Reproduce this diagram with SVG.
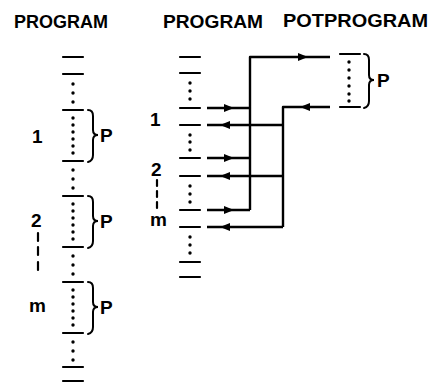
<svg xmlns="http://www.w3.org/2000/svg" width="434" height="385" viewBox="0 0 434 385">
<defs>
<style>
.t{font-family:"Liberation Sans",Arial,sans-serif;font-weight:bold;font-size:19px;fill:#000}
.l{font-family:"Liberation Sans",Arial,sans-serif;font-weight:bold;font-size:19px;fill:#000}
.k{stroke:#000;stroke-width:2.2;fill:none;stroke-linecap:round}
.b{stroke:#000;stroke-width:2;fill:none;stroke-linecap:round}
.w{stroke:#000;stroke-width:2.4;fill:none;stroke-linejoin:round}
.d{fill:#000}
</style>
<marker id="ar" viewBox="0 0 10 8" refX="10" refY="4" markerWidth="10" markerHeight="8" markerUnits="userSpaceOnUse" orient="auto"><path d="M0,0 L10,4 L0,8 Z" fill="#000"/></marker>
</defs>
<rect width="434" height="385" fill="#fff"/>
<g id="titles">
<text class="t" x="14" y="28" textLength="94" lengthAdjust="spacingAndGlyphs">PROGRAM</text>
<text class="t" x="163" y="28" textLength="100" lengthAdjust="spacingAndGlyphs">PROGRAM</text>
<text class="t" x="283" y="27" textLength="145" lengthAdjust="spacingAndGlyphs">POTPROGRAM</text>
</g>
<g id="program-left">
<path class="k" d="M63,57H83M63,74H83M63,110H83M63,161H83M63,196H83M63,247H83M63,282H83M63,333H83M63,367H83M63,381H83"/>
<g class="d">
<circle cx="73" cy="84" r="1.7"/><circle cx="73" cy="93" r="1.7"/><circle cx="73" cy="102" r="1.7"/>
<circle cx="73" cy="118" r="1.7"/><circle cx="73" cy="125" r="1.7"/><circle cx="73" cy="132" r="1.7"/><circle cx="73" cy="139" r="1.7"/><circle cx="73" cy="146" r="1.7"/><circle cx="73" cy="153" r="1.7"/>
<circle cx="73" cy="170" r="1.7"/><circle cx="73" cy="179" r="1.7"/><circle cx="73" cy="188" r="1.7"/>
<circle cx="73" cy="204" r="1.7"/><circle cx="73" cy="211" r="1.7"/><circle cx="73" cy="218" r="1.7"/><circle cx="73" cy="225" r="1.7"/><circle cx="73" cy="232" r="1.7"/><circle cx="73" cy="239" r="1.7"/>
<circle cx="73" cy="256" r="1.7"/><circle cx="73" cy="265" r="1.7"/><circle cx="73" cy="274" r="1.7"/>
<circle cx="73" cy="290" r="1.7"/><circle cx="73" cy="297" r="1.7"/><circle cx="73" cy="304" r="1.7"/><circle cx="73" cy="311" r="1.7"/><circle cx="73" cy="318" r="1.7"/><circle cx="73" cy="325" r="1.7"/>
<circle cx="73" cy="342" r="1.7"/><circle cx="73" cy="351" r="1.7"/><circle cx="73" cy="360" r="1.7"/>
</g>
<path class="b" d="M88,110Q93,110 93,116L93,130Q93,135 98,135Q93,135 93,140L93,155Q93,161 88,162"/>
<path class="b" d="M88,196Q93,196 93,202L93,216Q93,221 98,221Q93,221 93,226L93,241Q93,247 88,248"/>
<path class="b" d="M88,282Q93,282 93,288L93,302Q93,307 98,307Q93,307 93,312L93,327Q93,333 88,334"/>
<text class="l" x="100" y="142">P</text>
<text class="l" x="100" y="228">P</text>
<text class="l" x="100" y="314">P</text>
<text class="l" x="32" y="143">1</text>
<text class="l" x="31" y="227">2</text>
<path class="k" d="M38,233V241M38,247V255M38,262V270"/>
<text class="l" x="29" y="312">m</text>
</g>
<g id="program-mid">
<path class="k" d="M180,57H200M180,73H200M180,108H200M180,125H200M180,158H200M180,176H200M180,210H200M180,227H200M180,262H200M180,277H200"/>
<g class="d">
<circle cx="190" cy="83" r="1.7"/><circle cx="190" cy="91" r="1.7"/><circle cx="190" cy="99" r="1.7"/>
<circle cx="190" cy="135" r="1.7"/><circle cx="190" cy="142" r="1.7"/><circle cx="190" cy="150" r="1.7"/>
<circle cx="190" cy="186" r="1.7"/><circle cx="190" cy="194" r="1.7"/><circle cx="190" cy="202" r="1.7"/>
<circle cx="190" cy="237" r="1.7"/><circle cx="190" cy="245" r="1.7"/><circle cx="190" cy="253" r="1.7"/>
</g>
<text class="l" x="150" y="126">1</text>
<text class="l" x="151" y="176">2</text>
<path class="k" d="M157,180V186M157,191V197M157,202V208"/>
<text class="l" x="150" y="226">m</text>
</g>
<g id="potprogram">
<path class="k" d="M340,54H360M340,107H360"/>
<g class="d">
<circle cx="349" cy="62" r="1.7"/><circle cx="349" cy="70" r="1.7"/><circle cx="349" cy="78" r="1.7"/><circle cx="349" cy="86" r="1.7"/><circle cx="349" cy="94" r="1.7"/><circle cx="349" cy="101" r="1.7"/>
</g>
<path class="b" d="M364,54Q369,54 369,60L369,75Q369,80 374,80Q369,80 369,85L369,101Q369,107 364,108"/>
<text class="l" x="377" y="87">P</text>
</g>
<g id="connectors">
<path class="w" d="M207,108H250M207,158H250M207,210H250M250,210V57H330"/>
<path class="w" d="M283,227V107H330M283,125H207M283,176H207M283,227H207"/>
<path class="k" d="M218,108H234" marker-end="url(#ar)"/>
<path class="k" d="M218,158H234" marker-end="url(#ar)"/>
<path class="k" d="M218,210H234" marker-end="url(#ar)"/>
<path class="k" d="M236,125H220" marker-end="url(#ar)"/>
<path class="k" d="M236,176H220" marker-end="url(#ar)"/>
<path class="k" d="M236,227H220" marker-end="url(#ar)"/>
<path class="k" d="M290,57H308" marker-end="url(#ar)"/>
<path class="k" d="M318,107H300" marker-end="url(#ar)"/>
</g>
</svg>
